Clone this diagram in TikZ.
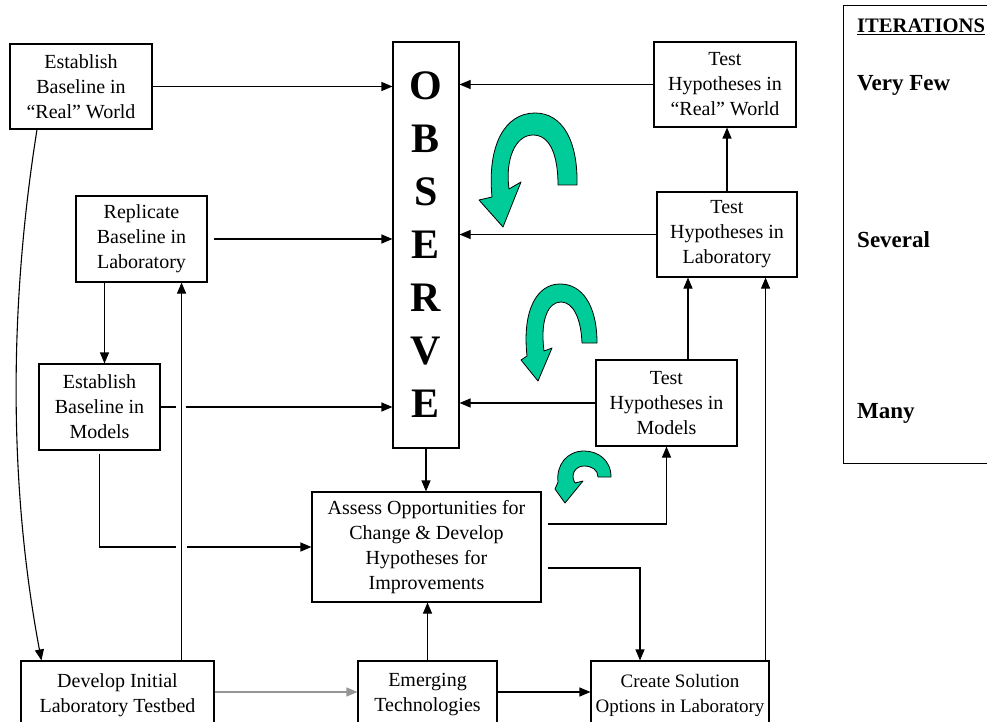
\documentclass[tikz,border=0pt]{standalone}
\usepackage{fontspec}
\setmainfont{Liberation Serif}
\usetikzlibrary{arrows.meta,calc}
\definecolor{turq}{RGB}{0,204,153}
\definecolor{arrgray}{RGB}{150,150,150}
\begin{document}
\begin{tikzpicture}[x=1pt,y=-1pt,
  box/.style={draw, line width=1.1pt, align=center, inner sep=0pt, font=\fontsize{20}{25}\selectfont},
  arr/.style={line width=1.1pt, -{Triangle[length=11pt,width=9pt]}},
  loop/.style={fill=turq, draw=black, line width=0.8pt, line join=round},
  itlabel/.style={anchor=base west, inner sep=0pt, font=\fontsize{23}{26}\selectfont\bfseries}]
\path[use as bounding box, clip] (0,0) rectangle (987,722);

% boxes
\node[box, minimum width=142pt, minimum height=85pt] (estRW) at (81,86.5) {Establish\\Baseline in\\“Real” World};
\node[box, minimum width=142pt, minimum height=85pt] (testRW) at (725,84.5) {Test\\Hypotheses in\\“Real” World};
\node[box, minimum width=131pt, minimum height=86pt] (repl) at (141.5,239) {Replicate\\Baseline in\\Laboratory};
\node[box, minimum width=140pt, minimum height=85pt] (testLab) at (727,234.5) {Test\\Hypotheses in\\Laboratory};
\node[box, minimum width=121pt, minimum height=86pt] (estMod) at (99.5,407) {Establish\\Baseline in\\Models};
\node[box, minimum width=141pt, minimum height=86pt] (testMod) at (666.5,403) {Test\\Hypotheses in\\Models};
\node[box, minimum width=229pt, minimum height=110pt] (assess) at (426.5,547) {Assess Opportunities for\\Change \& Develop\\Hypotheses for\\Improvements};
\node[box, minimum width=193pt, minimum height=68pt] (develop) at (117.5,695) {Develop Initial\\Laboratory Testbed};
\node[box, minimum width=139pt, minimum height=68pt] (emerg) at (427.5,695) {Emerging\\Technologies};
\node[box, minimum width=178pt, minimum height=68pt, font=\fontsize{19}{25}\selectfont] (create) at (680,695) {Create Solution\\Options in Laboratory};
\node[box, minimum width=66pt, minimum height=406pt, font=\fontsize{42}{53}\selectfont\bfseries] (obs) at (426,245) {O\\B\\S\\E\\R\\V\\E};

% iterations panel
\node[draw, line width=1.1pt, minimum width=200pt, minimum height=458pt, anchor=north west, inner sep=0pt] (iter) at (843,5) {};
\node[itlabel, font=\fontsize{20.6}{24}\selectfont\bfseries] (itT) at (857,33) {\underline{ITERATIONS}};
\node[itlabel] (itF) at (857,91) {Very Few};
\node[itlabel] (itS) at (857,247) {Several};
\node[itlabel] (itM) at (857,418) {Many};

% helper coordinates
\coordinate (vx) at ([xshift=-33pt]develop.north east);
\coordinate (tm) at ([xshift=21.5pt]testMod.north);
\coordinate (cr) at ([xshift=-4pt]create.north east);
\coordinate (a1) at ([yshift=23pt]assess.east);
\coordinate (a2) at ([yshift=-21pt]assess.east);
\coordinate (a2c) at ([xshift=-40pt]create.north);
\coordinate (rp) at ([xshift=-37pt]repl.south);
\coordinate (er) at ([xshift=-44pt]estRW.south);
\coordinate (dv) at ([xshift=21pt]develop.north west);
\coordinate (dvE) at ([yshift=3pt]develop.east);
\coordinate (emE) at ([yshift=3pt]emerg.east);

% connectors into OBSERVE
\draw[arr] (estRW.east) -- (estRW.east -| obs.west);
\draw[arr] (testRW.west) -- (testRW.west -| obs.east);
\draw[arr, shorten <=6pt] (repl.east) -- (repl.east -| obs.west);
\draw[arr] (testLab.west) -- (testLab.west -| obs.east);
\draw[arr] (testMod.west) -- (testMod.west -| obs.east);
\draw[line width=1.1pt] (estMod.east) -- ($(vx |- estMod.east)+(-6,0)$);
\draw[arr] ($(vx |- estMod.east)+(4,0)$) -- (estMod.east -| obs.west);

% vertical flows
\draw[arr] (obs.south) -- (obs.south |- assess.north);
\draw[arr] (testLab.north) -- (testLab.north |- testRW.south);
\draw[arr] (tm) -- (tm |- testLab.south);
\draw[arr] (cr) -- (cr |- testLab.south);
\draw[arr] (rp) -- (rp |- estMod.north);
\draw[arr] (vx) -- (vx |- repl.south);
\draw[arr] (emerg.north) -- (emerg.north |- assess.south);

% elbows
\draw[arr, shorten <=6pt] (a1) -- (a1 -| testMod.south) -- (testMod.south);
\draw[arr, shorten <=6pt] (a2) -- (a2 -| a2c) -- (a2c);
\draw[line width=1.1pt, shorten <=3pt] (estMod.south) -- (estMod.south |- assess.west) -- ($(vx |- assess.west)+(-6,0)$);
\draw[arr] ($(vx |- assess.west)+(5,0)$) -- (assess.west);

% bottom row
\draw[arr] (er) .. controls +(-27,170) and +(-34,-181) .. (dv);
\draw[arr, draw=arrgray, fill=arrgray] (dvE) -- (dvE -| emerg.west);
\draw[arr] (emE) -- (emE -| create.west);

% green loop arrows
\filldraw[loop] (577,185) .. controls (578,140) and (562,113) .. (535,113)
  .. controls (505,113) and (487,145) .. (492,197) -- (479,200) -- (503,227) -- (521,182) -- (509,189)
  .. controls (505,160) and (515,135) .. (533,135) .. controls (550,135) and (558,155) .. (558,185) -- cycle;
\filldraw[loop] (597,343) .. controls (597,305) and (582,284) .. (560,284)
  .. controls (537,284) and (522,310) .. (527,356) -- (521,360) -- (538,381) -- (552,348) -- (544,351)
  .. controls (540,320) and (548,302) .. (561,302) .. controls (573,302) and (581,318) .. (582,343) -- cycle;
\filldraw[loop] (611,477) .. controls (611,460) and (598,451) .. (584,451)
  .. controls (567,451) and (556,465) .. (558,482) -- (555,489) -- (565,503) -- (583,481) -- (575,483)
  .. controls (570,475) and (575,466) .. (584,466) .. controls (592,466) and (598,470) .. (598,477) -- cycle;
\end{tikzpicture}
\end{document}
